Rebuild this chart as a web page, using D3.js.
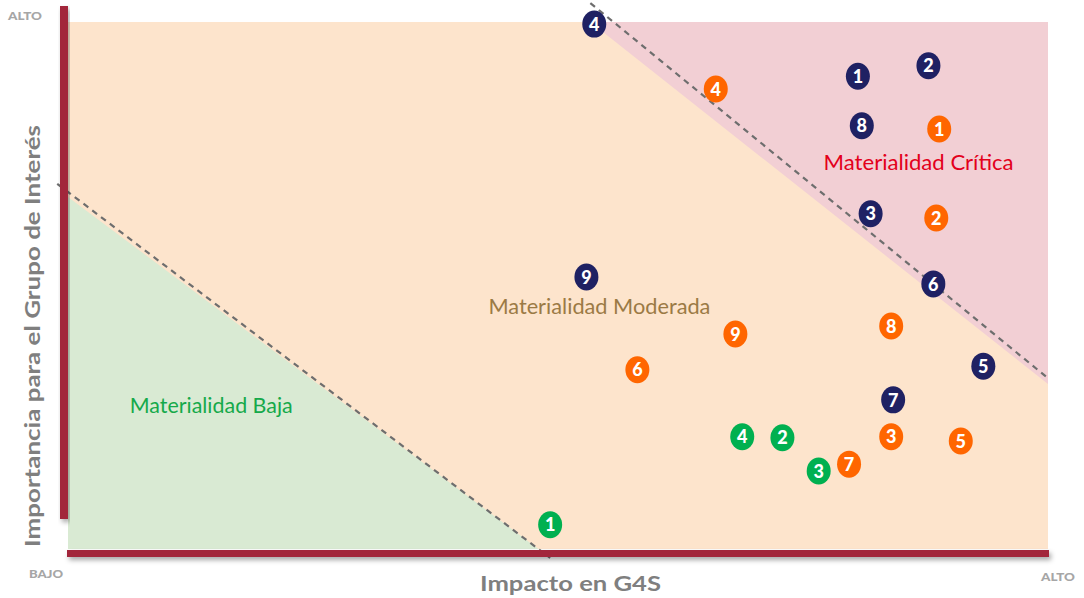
<!DOCTYPE html>
<html>
<head>
<meta charset="utf-8">
<script src="https://cdn.jsdelivr.net/npm/d3@7"></script>
<style>
  body { margin: 0; background: #fff; }
  svg { display: block; }
</style>
</head>
<body>
<div id="chart_area"></div>
<script>
// Data (both axes 0..10).
var navyLabels = ["4", "1", "2", "8", "3", "6", "9", "5", "7"];
var navyX = [5.37, 8.06, 8.78, 8.10, 8.19, 8.83, 5.29, 9.34, 8.42];
var navyY = [9.96, 8.97, 9.17, 8.03, 6.36, 5.03, 5.16, 3.47, 2.83];

var orangeLabels = ["4", "1", "2", "8", "9", "6", "3", "5", "7"];
var orangeX = [6.61, 8.89, 8.86, 8.40, 6.81, 5.81, 8.40, 9.11, 7.97];
var orangeY = [8.73, 7.97, 6.28, 4.23, 4.08, 3.40, 2.13, 2.05, 1.61];

var greenLabels = ["4", "2", "3", "1"];
var greenX = [6.88, 7.29, 7.66, 4.92];
var greenY = [2.13, 2.11, 1.48, 0.46];

// zone boundaries
var lowZone = [[0, 6.68], [0, 0], [4.80, 0]];
var highZone = [[5.33, 10], [10, 10], [10, 3.13]];
var lowDash = [[-0.11, 6.93], [4.92, -0.17]];
var highDash = [[5.33, 10.36], [10, 3.24]];

var zoneNames = ["Materialidad Baja", "Materialidad Moderada", "Materialidad Crítica"];
var zoneAt = [[0.63, 2.58], [4.29, 4.45], [7.71, 7.20]];

var xTitle = "Impacto en G4S";
var yTitle = "Importancia para el Grupo de Interés";
var lowLabel = "BAJO", highLabel = "ALTO";

// Frame
var frame_width = 1084, frame_height = 598;
var margin = {top: 22, right: 36, bottom: 49, left: 68};
var canvas_width = frame_width - margin.left - margin.right;
var canvas_height = frame_height - margin.top - margin.bottom;

var frame = d3.select("#chart_area").append("svg")
  .attr("width", frame_width)
  .attr("height", frame_height);

var defs = frame.append("defs");
var shadow = defs.append("filter").attr("id", "shadow")
  .attr("x", "-20%").attr("y", "-20%").attr("width", "140%").attr("height", "300%");
shadow.append("feDropShadow")
  .attr("dx", 2).attr("dy", 3).attr("stdDeviation", 2.5)
  .attr("flood-color", "#000").attr("flood-opacity", 0.35);

var canvas = frame.append("g")
  .attr("transform", "translate(" + margin.left + "," + margin.top + ")");

var xScale = d3.scaleLinear().domain([0, 10]).range([0, canvas_width]);
var yScale = d3.scaleLinear().domain([0, 10]).range([canvas_height, 0]);

var line = d3.line()
  .x(function(d) { return xScale(d[0]); })
  .y(function(d) { return yScale(d[1]); });

// background zones
canvas.append("rect")
  .attr("x", xScale(0)).attr("y", yScale(10))
  .attr("width", xScale(10) - xScale(0))
  .attr("height", yScale(0) - yScale(10))
  .style("fill", "#fde4cc");

canvas.append("path").attr("d", line(lowZone) + "Z").style("fill", "#d9ead3");
canvas.append("path").attr("d", line(highZone) + "Z").style("fill", "#f2cfd4");

// dashed boundaries
[lowDash, highDash].forEach(function(seg) {
  canvas.append("path")
    .attr("d", line(seg))
    .style("fill", "none")
    .style("stroke", "#6e6e6e")
    .style("stroke-width", 2.2)
    .style("stroke-dasharray", "6,5");
});

// axis bars
canvas.append("rect")
  .attr("x", xScale(0) - 8).attr("y", yScale(10) - 16)
  .attr("width", 8).attr("height", yScale(0) - yScale(10) - 14)
  .attr("filter", "url(#shadow)")
  .style("fill", "#a2283a");

canvas.append("rect")
  .attr("x", xScale(0) - 1).attr("y", yScale(0) + 1)
  .attr("width", xScale(10) - xScale(0) + 2).attr("height", 7)
  .attr("filter", "url(#shadow)")
  .style("fill", "#a2283a");

// zone names
var zoneColors = ["#15a94a", "#9b7a45", "#e3001b"];
var zoneWidths = [163, 222, 190];
canvas.selectAll(".zone")
  .data(zoneNames)
  .enter().append("text")
  .attr("class", "zone")
  .attr("x", function(d, i) { return xScale(zoneAt[i][0]); })
  .attr("y", function(d, i) { return yScale(zoneAt[i][1]); })
  .attr("textLength", function(d, i) { return zoneWidths[i]; })
  .attr("lengthAdjust", "spacingAndGlyphs")
  .style("font-family", "Lato, 'Open Sans', sans-serif")
  .style("font-size", "21px")
  .style("fill", function(d, i) { return zoneColors[i]; })
  .text(function(d) { return d; });

// points
function drawPoints(labels, xs, ys, color, cls) {
  var g = canvas.selectAll("." + cls)
    .data(labels)
    .enter().append("g")
    .attr("class", cls)
    .attr("transform", function(d, i) {
      return "translate(" + xScale(xs[i]) + "," + yScale(ys[i]) + ")";
    });
  g.append("ellipse")
    .attr("rx", 12).attr("ry", 13.5)
    .style("fill", color);
  g.append("text")
    .attr("text-anchor", "middle")
    .attr("dy", "0.37em")
    .style("font-family", "Lato, 'Open Sans', sans-serif")
    .style("font-weight", 900)
    .style("font-size", "18px")
    .style("fill", "#fff")
    .text(function(d) { return d; });
}
drawPoints(navyLabels, navyX, navyY, "#1f2163", "navy");
drawPoints(orangeLabels, orangeX, orangeY, "#ff6600", "orange");
drawPoints(greenLabels, greenX, greenY, "#00b050", "green");

// axis titles
frame.append("text")
  .attr("x", 480).attr("y", 591)
  .attr("textLength", 181)
  .attr("lengthAdjust", "spacingAndGlyphs")
  .style("font-family", "Lato, 'Open Sans', sans-serif")
  .style("font-weight", "bold")
  .style("font-size", "21px")
  .style("fill", "#7f7f7f")
  .text(xTitle);

frame.append("text")
  .attr("transform", "translate(40,547) rotate(-90)")
  .attr("textLength", 422)
  .attr("lengthAdjust", "spacingAndGlyphs")
  .style("font-family", "Lato, 'Open Sans', sans-serif")
  .style("font-weight", "bold")
  .style("font-size", "21px")
  .style("fill", "#7f7f7f")
  .text(yTitle);

// ends of scale
var ends = [[8, 20, highLabel], [29, 578, lowLabel], [1041, 581, highLabel]];
frame.selectAll(".end")
  .data(ends)
  .enter().append("text")
  .attr("class", "end")
  .attr("x", function(d) { return d[0]; })
  .attr("y", function(d) { return d[1]; })
  .attr("textLength", 34)
  .attr("lengthAdjust", "spacingAndGlyphs")
  .style("font-family", "Lato, 'Open Sans', sans-serif")
  .style("font-weight", 900)
  .style("font-size", "11px")
  .style("fill", "#a6a6a6")
  .text(function(d) { return d[2]; });
</script>
</body>
</html>
